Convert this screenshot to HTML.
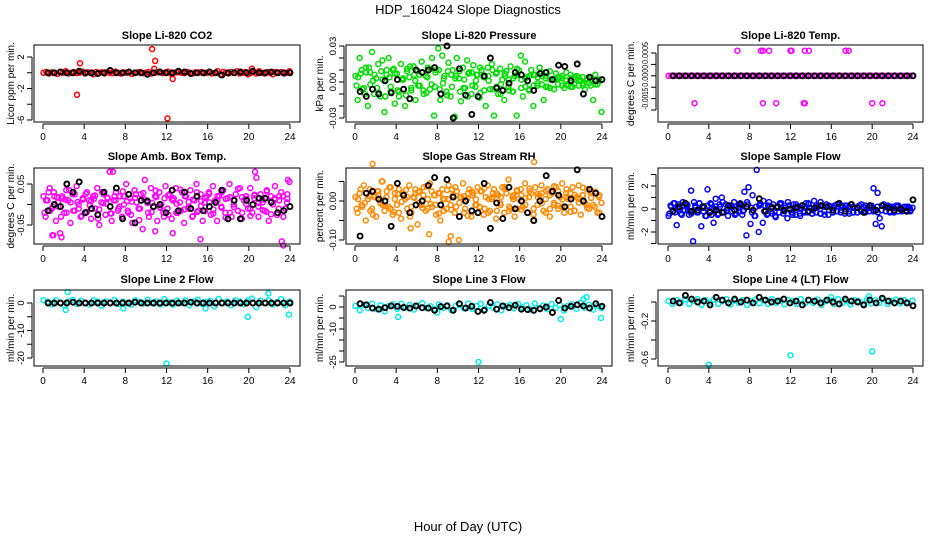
<!DOCTYPE html>
<html><head><meta charset="utf-8">
<style>
html,body{margin:0;padding:0;background:#fff;}
svg{display:block;font-family:"Liberation Sans",Arial,sans-serif;}
</style></head>
<body>
<svg id="chart" width="936" height="540" viewBox="0 0 936 540">
<text x="468" y="14" text-anchor="middle" font-size="13">HDP_160424  Slope Diagnostics</text>
<text x="468" y="531" text-anchor="middle" font-size="13">Hour of Day (UTC)</text>
</svg>
<script>
// ---------- data ----------
const xTicks = [0,4,8,12,16,20,24];
const titles = ["Slope Li-820 CO2","Slope Li-820 Pressure","Slope Li-820 Temp.","Slope Amb. Box Temp.","Slope Gas Stream RH","Slope Sample Flow","Slope Line 2 Flow","Slope Line 3 Flow","Slope Line 4 (LT) Flow"];
const yTitles = ["Licor ppm per min.","kPa per min.","degrees C per min.","degrees C per min.","percent per min.","ml/min per min.","ml/min per min.","ml/min per min.","ml/min per min."];
const colors = ["#ff0000","#00dd00","#ff00ff","#ff00ff","#ff8800","#0000ff","#00eeee","#00eeee","#00eeee"];

const yTicks0 = [2,0,-2,-4,-6];           const yLab0 = ["2","","-2","","-6"];
const yTicks1 = [0.03,0.02,0.01,0,-0.01,-0.02,-0.03]; const yLab1 = ["0.03","","","0.00","","","-0.03"];
const yTicks2 = [0.001,0.0005,0,-0.0005,-0.001,-0.0015]; const yLab2 = ["0.0005","","0.0000","","-0.0015",""];
const yTicks3 = [0.05,0,-0.05];           const yLab3 = ["0.05","","-0.05"];
const yTicks4 = [0.05,0,-0.05,-0.1];      const yLab4 = ["","0.00","","-0.10"];
const yTicks5 = [3,2,1,0,-1,-2,-3];       const yLab5 = ["","2","","0","","-2",""];
const yTicks6 = [0,-5,-10,-15,-20];       const yLab6 = ["0","","-10","","-20"];
const yTicks7 = [5,0,-5,-10,-15,-20,-25]; const yLab7 = ["","0","","-10","","","-25"];
const yTicks8 = [0,-0.2,-0.4,-0.6];       const yLab8 = ["","-0.2","","-0.6"];

const main0 = [0,0.1,-0.1,0.05,0,-0.15,0.1,0,0.2,-0.1,0,0.1,-0.05,0,0.15,-0.1,0.05,0,-0.2,0.1,0,0.05,-0.1,0.1,0,-0.05,0.15,0,-0.1,0.05,0,0.1,-0.15,0,0.05,0.1,-0.05,0,0.1,-0.1,0,0.05,0.1,-0.05,0,0.15,-0.1,0,0.05,0.1,0,-0.05,0.1,0,-0.1,0.05,0,0.1,-0.05,0,
0.1,-0.1,0,0.2,-0.2,0.1,0,-0.1,0.1,0,0.2,-0.1,0,0.1,-0.2,0,0.1,-0.1,0.2,0,-0.1,0.1,0,-0.2,0.1,0,0.1,-0.1,0,0.2];
const main1 = [0.005,-0.015,0.02,0.01,-0.005,0.012,-0.02,0.008,0.025,-0.01,0.003,0.015,-0.012,0.018,-0.025,0.006,0.02,-0.008,0.01,-0.018,
0.007,-0.012,0.015,0.002,-0.02,0.011,0.004,-0.007,0.013,-0.015,0.009,-0.003,0.017,-0.01,0.005,0.012,-0.006,0.02,-0.028,0.01,
0.028,-0.015,0.022,0.005,-0.008,0.016,-0.012,0.01,-0.029,0.02,0.003,-0.016,0.012,-0.005,0.018,0.008,-0.01,0.014,-0.004,0.006,
-0.013,0.01,0.004,-0.02,0.012,-0.006,0.015,-0.028,0.007,-0.01,0.011,0.002,-0.015,0.009,-0.004,0.013,-0.008,0.005,-0.028,0.01,
0.022,-0.012,0.017,0.004,-0.007,0.01,-0.02,0.006,-0.003,0.012,0.008,-0.015,0.005,-0.004,0.009,0.002,-0.006,0.007,-0.002,0.004,
0.003,-0.005,0.008,-0.002,0.006,-0.004,0.002,0.005,-0.003,0.001,0.004,-0.006,0.003,-0.001,0.002,-0.015,0.006,-0.002,0.001,-0.025];
const band1 = [0.004,-0.006,0.008,-0.002,0.006,-0.009,0.002,0.01,-0.004,0.007,-0.008,0.003,0.009,-0.005,0.001,0.006,-0.007,0.004,-0.002,0.008,
-0.006,0.003,0.009,-0.004,0.005,-0.008,0.002,0.007,-0.003,0.006,-0.009,0.004,0.001,-0.006,0.008,-0.002,0.005,-0.007,0.003,0.006,
0.002,-0.004,0.005,-0.003,0.004,-0.002,0.003,-0.005,0.002,0.004,-0.003,0.001,0.003,-0.002,0.004,-0.001,0.002,-0.003,0.001,0.002];
const bandB1 = [-0.003,0.007,-0.01,0.012,0.001,-0.005,0.009,-0.012,0.004,0.011,-0.007,0.002,-0.011,0.013,0.006,-0.003,0.008,-0.009,0.011,-0.004,
0.01,-0.001,-0.011,0.006,0.003,0.009,-0.005,-0.012,0.008,0.001,0.012,-0.007,0.005,0.01,-0.004,-0.01,0.007,0.002,-0.008,0.011,
-0.005,0.003,-0.006,0.006,-0.001,0.005,-0.004,0.002,-0.006,0.003,0.005,-0.002,-0.004,0.004,0.001,-0.003,0.003,0.002,-0.002,0.001];
const main2 = new Array(90).fill(0);
const main3 = [0.02,-0.03,0.01,0.04,-0.01,0.03,-0.04,0.005,-0.07,0.02,-0.02,0.035,0.01,-0.045,0.025,-0.015,0.045,0,-0.03,0.015,
-0.02,0.03,0.01,-0.035,0.02,-0.01,0.04,-0.05,0.005,0.025,-0.025,0.015,0.08,-0.04,0.01,0.03,-0.015,0.02,-0.03,0,
0.05,-0.02,0.015,-0.045,0.035,0.005,-0.01,0.025,-0.06,0.06,0.01,-0.03,0.04,-0.005,0.02,-0.04,0.03,0,-0.02,0.045,
-0.01,0.025,-0.035,0.015,0.04,-0.02,0.005,0.03,-0.045,0.02,-0.01,0.035,-0.03,0.01,0.05,-0.015,0.025,-0.04,0.005,0.02,
0.03,-0.025,0.045,0.01,-0.04,0.02,-0.005,0.035,-0.02,0.015,0.05,-0.03,0,0.025,-0.015,0.04,-0.035,0.01,0.02,-0.01,
0.04,-0.02,0.015,0.065,-0.03,0.025,0.005,-0.015,0.035,-0.04,0.02,0,0.045,-0.025,0.01,0.03,-0.1,-0.01,0.025,0.055];
const band3 = [0.01,-0.015,0.02,-0.005,0.015,-0.02,0.005,0.025,-0.01,0.012,-0.018,0.008,0.022,-0.012,0.003,0.017,-0.022,0.01,-0.005,0.02,
-0.015,0.007,0.025,-0.01,0.013,-0.02,0.004,0.018,-0.008,0.015,-0.025,0.01,0.002,-0.015,0.02,-0.005,0.012,-0.018,0.008,0.016,
0.005,-0.012,0.02,-0.008,0.014,-0.02,0.01,-0.015,0.018,0.002,-0.01,0.022,-0.005,0.012,-0.018,0.008,0.015,-0.01,0.02,0.005];
const bandB3 = [-0.02,0.03,-0.005,0.018,-0.03,0.012,0.035,-0.015,0.006,-0.028,0.026,-0.002,0.014,-0.035,0.03,0.002,-0.022,0.02,-0.01,0.032,
0.008,-0.025,0.016,-0.038,0.028,0.004,-0.018,0.034,-0.006,-0.03,0.022,0.012,-0.02,0.036,-0.012,0.006,-0.028,0.03,-0.004,-0.016,
0.026,-0.022,0.01,0.03,-0.032,0.018,-0.006,0.038,-0.02,0.014,-0.028,0.024,0.004,-0.014,0.032,-0.024,0.012,0.02,-0.03,0.014];
const main4 = [0.01,-0.03,0.02,-0.01,0.04,-0.05,0.005,0.03,-0.02,0.015,-0.04,0.025,-0.005,0.05,-0.025,0.01,-0.015,0.035,-0.035,0.02,
-0.01,0.03,-0.045,0.015,0.005,-0.02,0.04,-0.03,0.01,0.02,-0.06,0.025,-0.01,0.035,-0.025,0.005,0.045,-0.015,0.015,-0.035,
0.02,-0.05,0.03,0.005,-0.02,0.04,-0.01,0.015,-0.03,0.025,-0.1,0.01,0.045,-0.02,0.005,0.03,-0.04,0.02,-0.01,0.035,
-0.015,0.025,-0.035,0.01,0.04,-0.025,0.005,0.03,-0.045,0.015,-0.005,0.035,-0.03,0.02,0.055,-0.02,0.01,-0.04,0.025,0.005,
0.03,-0.015,0.045,-0.03,0.01,0.02,-0.05,0.035,-0.01,0.015,0.04,-0.025,0.005,0.03,-0.04,0.02,-0.01,0.035,-0.02,0.01,
0.045,-0.03,0.02,0.005,-0.015,0.035,-0.025,0.01,0.04,-0.035,0.015,-0.005,0.03,-0.02,0.025,-0.01,0.02,-0.03,0.015,-0.005];
const band4 = [0.005,-0.015,0.02,-0.025,0.01,0.015,-0.01,0.025,-0.02,0.005,-0.03,0.02,0.01,-0.015,0.03,-0.005,0.015,-0.02,0.025,-0.01,
0.02,-0.025,0.005,0.03,-0.015,0.01,-0.03,0.02,0.015,-0.01,0.025,-0.02,0.005,0.02,-0.025,0.01,0.03,-0.015,0.005,-0.02,
0.015,-0.01,0.025,-0.02,0.01,0.02,-0.03,0.015,-0.005,0.025,-0.015,0.01,0.02,-0.025,0.005,0.015,-0.01,0.02,-0.015,0.01];
const bandB4 = [-0.02,0.03,-0.005,0.012,-0.035,0.025,0.002,-0.012,0.035,-0.028,0.018,-0.002,0.028,-0.04,0.008,0.022,-0.018,0.038,-0.008,0.015,
-0.032,0.006,0.028,-0.022,0.035,-0.005,0.012,-0.038,0.024,0.004,-0.016,0.032,-0.03,0.01,0.02,-0.01,0.036,-0.026,0.014,0.028,
-0.022,0.008,0.032,-0.034,0.018,-0.006,0.026,-0.02,0.038,-0.012,0.004,0.03,-0.028,0.016,-0.004,0.034,-0.018,0.008,0.024,-0.03];
const main5 = [-0.6,0.3,-0.2,0.5,-1.4,0.2,-0.4,0.6,-0.1,0.4,-0.5,1.6,-2.8,0.3,-0.3,0.5,-1.5,0.1,-0.6,1.7,
-0.2,0.4,-1.2,0.9,-0.5,0.2,1.0,-0.3,0.4,-0.6,0.3,-0.2,0.6,-0.4,0.1,0.5,-0.5,1.5,-2.3,1.9,
-1.3,1.2,-0.6,3.4,-2.0,0.4,-1.2,0.3,-0.5,0.6,-0.2,0.4,-0.6,0.2,-0.3,0.5,-0.4,0.1,-0.8,0.3,
-0.3,0.4,-0.5,0.2,-0.4,0.3,-0.2,0.5,-0.3,0.1,-0.4,0.7,-0.3,0.2,-0.4,0.3,-0.2,0.4,-0.5,0.2,
-0.3,0.3,-0.2,0.4,-0.3,0.2,-0.4,0.3,-0.2,0.4,-0.3,0.1,-0.3,0.3,-0.2,0.2,-0.3,0.1,-0.2,0.3,
1.8,-1.3,1.4,-0.8,-1.5,0.4,-0.2,0.3,-0.3,0.2,-0.2,0.3,-0.2,0.1,-0.2,0.2,-0.1,0.2,-0.2,0.1];
const band5 = [0.2,-0.3,0.4,-0.1,0.3,-0.4,0.1,0.5,-0.2,0.3,-0.5,0.2,0.4,-0.3,0.1,0.3,-0.4,0.2,-0.1,0.4,
-0.3,0.2,0.5,-0.2,0.3,-0.4,0.1,0.4,-0.2,0.3,-0.5,0.2,0.1,-0.3,0.4,-0.1,0.3,-0.4,0.2,0.3,
0.1,-0.2,0.3,-0.2,0.2,-0.3,0.1,-0.2,0.3,0.1,-0.2,0.2,-0.1,0.2,-0.2,0.1,0.2,-0.1,0.1,0.05];
const bandB5 = [-0.4,0.5,0.1,-0.5,0.4,-0.2,0.6,-0.3,0.2,-0.6,0.5,0,-0.4,0.6,-0.1,0.3,-0.5,0.4,-0.2,0.6,
0.1,-0.6,0.3,0.7,-0.4,0.2,-0.7,0.5,-0.1,0.6,-0.3,0.4,-0.6,0.2,0.5,-0.4,0.1,0.6,-0.5,0.3,
-0.3,0.4,-0.1,0.3,-0.4,0.2,-0.3,0.4,-0.2,0.3,-0.1,-0.3,0.3,-0.2,0.2,-0.3,0.3,-0.2,0.2,-0.1];
const main6 = [1,0.5,-0.5,1,0,-1,0.5,1.2,-0.3,0.8,0,-0.5,1,0.5,-1,0.6,0,1.1,-0.4,0.5,0,-0.6,1,0.4,-0.2,1.2,0,0.6,-0.5,1.4,0.3,-0.6,0.8,0,1,-0.8,0.5,1.2,-0.3,0.4,0.8,-1.2,1.5,0,0.6,-0.8,1,0.5,-0.4,0.9,1.6,-1.5,0.8,0,1,-0.5,0.3,1.4,-0.8,0.5];
const main7 = [0.5,-1.5,1,-0.5,1.5,-1,0.8,-2,0.5,1.2,-0.8,1.5,-0.3,0.9,-1.2,0.6,1.8,-0.5,0.3,-1,1.2,-0.4,0.8,-1.5,0.5,1,-0.6,1.6,-0.8,0.4,1.5,-1,0.6,-0.3,1.2,-1.5,0.4,0.9,-0.6,1.4,-0.2,0.8,-1.2,1.6,-0.5,0.7,-1,1.3,-0.4,0.9,-1.6,0.5,1.2,-0.8,1.8,-0.3,1,-1.2,0.6,-0.5];
const main8 = [0.01,-0.02,0.02,-0.01,0.03,-0.02,0.01,0.03,-0.03,0.02,-0.01,0.025,-0.02,0.01,0.03,-0.025,0.015,-0.01,0.02,-0.03,0.01,0.025,-0.015,0.02,-0.02,0.03,-0.01,0.015,-0.025,0.02,0.01,-0.02,0.03,-0.015,0.02,-0.01,0.025,-0.03,0.01,0.02,-0.02,0.03,-0.01,0.015,-0.025,0.02,0.01,-0.02,0.025,-0.015,0.02,-0.01,0.03,-0.02,0.01,0.025,-0.015,0.02,-0.01,0.015];

const outX0 = [3.3,3.6,10.6,10.9,10.8,12.1,12.6,20.3]; const outY0 = [-2.8,1.2,3.0,1.5,0.5,-5.8,-0.8,0.5];
const outX1 = []; const outY1 = [];
const outX2 = [6.8,9.1,9.3,9.9,12.0,12.1,13.4,13.8,17.4,17.7,2.6,9.3,10.6,13.3,13.4,20.0,21.0];
const outY2 = [0.0011,0.0011,0.0011,0.0011,0.0011,0.0011,0.0011,0.0011,0.0011,0.0011,-0.0012,-0.0012,-0.0012,-0.0012,-0.0012,-0.0012,-0.0012];
const outX3 = [0.9,1.0,1.8,6.8,10.9,12.6,15.3,20.6,23.2,23.8]; const outY3 = [-0.075,-0.075,-0.08,0.08,-0.065,-0.07,-0.085,0.08,-0.09,0.06];
const outX4 = [1.7,5.4,9.1,9.3,2.6,7.2,17.4]; const outY4 = [0.095,-0.07,-0.105,-0.09,0.05,-0.085,0.1];
const outX5 = []; const outY5 = [];
const outX6 = [2.2,2.4,12.0,15.8,19.9,21.9,23.9,7.8]; const outY6 = [-2.5,4,-22,-2,-5,3.5,-4.2,-2];
const outX7 = [4.2,8.0,12.0,20.0,22.5,23.9,22.2]; const outY7 = [-4.5,-2.5,-25,-5.5,4.5,-5,3.5];
const outX8 = [4.0,12.0,20.0,16.0,19.7]; const outY8 = [-0.66,-0.56,-0.52,0.05,0.06];

const blk0 = [0,0,0.1,0,0,0.2,0,0,-0.1,0,0.3,0,0,0.1,0,0,-0.2,0,0.1,0,0,0.2,0.1,-0.1,0,0,0.1,0,-0.3,0,0,0.1,0,0.2,0,0,0.1,0,0,0];
const blk1 = [-0.008,-0.012,-0.006,-0.01,0.001,-0.009,0.002,-0.006,-0.014,0.01,0.008,0.01,0.012,-0.01,0.03,-0.03,0.011,-0.011,-0.027,-0.012,0.005,0.02,-0.005,-0.007,-0.001,0.008,0.006,0.001,-0.007,0.007,0.008,0.002,0.014,0.013,0.001,0.015,-0.01,0.004,0.001,0.002];
const blk2 = new Array(40).fill(0);
const blk3 = [-0.015,0,-0.005,0.05,0.03,0.055,-0.02,-0.01,-0.025,0.03,-0.005,0.04,-0.035,0.025,-0.045,0.01,0.008,-0.005,0,-0.02,0.035,-0.015,0.03,-0.01,0.02,-0.015,-0.005,0.005,0.035,-0.035,0.01,-0.035,0.01,0,0.015,0.015,0.005,-0.02,-0.015,-0.005];
const blk4 = [-0.09,0.02,0.025,0.005,0,-0.065,0.045,0.015,-0.03,-0.01,0,0.04,0.06,-0.01,0.055,0.01,-0.04,0,-0.025,-0.03,0.045,-0.07,-0.005,-0.045,0.035,-0.02,0,-0.03,-0.05,0,0.065,0.025,0.015,-0.015,0.005,0.08,0,0.03,0.02,-0.04];
const blk5 = [-0.2,0.2,0.5,-0.2,-0.1,0.2,-0.3,-0.1,-0.3,0.3,-0.1,0.4,0.2,-0.1,0.9,-0.2,0.1,0.2,-0.1,0,0.1,0.3,-0.2,0.1,0.3,0.2,-0.1,0.5,-0.2,0.4,0.1,-0.3,0.3,-0.1,0.3,0.1,-0.1,0,-0.2,0.8];
const blk6 = [0,0,0,0,0.3,0,0,0,0,0,0,0,0,0,0.3,0,0,0,0,0,0,0,0,0.3,0,0,0,0,0,0,0,0,0,0,0,0,0,0,0,0];
const blk7 = [1.5,1,-0.5,-1,-0.3,0.5,0.3,-0.2,-0.5,0.5,-0.3,-0.5,-1.5,0.2,0.5,-1.5,1.5,-0.5,0.3,-2,-1.5,2,-1,0.5,-0.3,0.8,-1,-1.2,-1.5,-0.8,0,-2.5,3,-0.5,0.3,1,0.5,-0.5,1.5,0.3];
const blk8 = [0.01,-0.01,0.07,0.03,0,0.01,-0.03,0.05,0.02,-0.01,0.03,0,0.02,-0.01,0.05,0.02,0,0.01,0.03,-0.01,0.01,-0.03,0.02,0.01,-0.01,0.02,0,-0.02,0.03,0.01,0,-0.03,0.02,-0.01,0.04,0.01,-0.01,0.01,-0.01,-0.04];

// ---------- layout ----------
const mains = [main0,main1,main2,main3,main4,main5,main6,main7,main8];
const bands = [null,band1,null,band3,band4,band5,null,null,null];
const bandsB = [null,bandB1,null,bandB3,bandB4,bandB5,null,null,null];
const outXs = [outX0,outX1,outX2,outX3,outX4,outX5,outX6,outX7,outX8];
const outYs = [outY0,outY1,outY2,outY3,outY4,outY5,outY6,outY7,outY8];
const blks = [blk0,blk1,blk2,blk3,blk4,blk5,blk6,blk7,blk8];
const yTicksAll = [yTicks0,yTicks1,yTicks2,yTicks3,yTicks4,yTicks5,yTicks6,yTicks7,yTicks8];
const yLabsAll = [yLab0,yLab1,yLab2,yLab3,yLab4,yLab5,yLab6,yLab7,yLab8];
const cal = [[2,57,-6,120],[0.03,46,-0.03,118],[0.001,53,-0.0015,110],[0.05,184,-0.05,225],[0,201,-0.1,240],[2,186,-2,232],[0,303,-20,358],[0,307,-25,362],[0,302,-0.6,359]];
const cols = [{bl:34,br:300,x0:43,x1:290},{bl:346,br:612,x0:355,x1:602},{bl:658,br:923,x0:668,x1:913}];
const rows = [{top:45,bot:122,title:39},{top:168,bot:244,title:160},{top:290,bot:366,title:283}];
const ytX = [11,320,631];

const NS = "http://www.w3.org/2000/svg";
const svg = document.getElementById('chart');
function mk(tag, attrs, parent){const e=document.createElementNS(NS,tag);for(const k in attrs)e.setAttribute(k,attrs[k]);(parent||svg).appendChild(e);return e;}

for(let p=0;p<9;p++){
  const c=cols[p%3], r=rows[Math.floor(p/3)];
  const g=mk('g',{});
  
  
  const xs=v=>c.x0+(v/24)*(c.x1-c.x0);
  const k=cal[p];
  const ys=v=>k[1]+(v-k[0])*(k[3]-k[1])/(k[2]-k[0]);
  const t=mk('text',{x:(c.bl+c.br)/2,y:r.title,'text-anchor':'middle','font-size':'11','font-weight':'bold'},g);
  t.textContent=titles[p];
  
  
  const yt=mk('text',{x:0,y:0,'text-anchor':'middle','font-size':'10',transform:`translate(${ytX[p%3]+3},${(r.top+r.bot)/2}) rotate(-90)`},g);
  yt.textContent=yTitles[p];
  
  
  const plotG=mk('g',{fill:'none'},g);
  
  
  const col=colors[p];
  function dot(x,y,color,sw){
    const e=mk('circle',{cx:xs(x).toFixed(1),cy:ys(y).toFixed(1),r:'2.5',stroke:color,'stroke-width':sw},plotG);
    
    
  }
  const m=mains[p];
  m.forEach((v,i)=>dot(0.05+i*23.9/(m.length-1),v,col,1.5));
  if(bands[p]){const b=bands[p];b.forEach((v,i)=>dot(0.3+i*23.4/(b.length-1),v,col,1.5));}
  if(bandsB[p]){const b=bandsB[p];b.forEach((v,i)=>dot(0.15+i*23.6/(b.length-1),v,col,1.5));}
  outXs[p].forEach((x,i)=>dot(x,outYs[p][i],col,1.5));
  const bk=blks[p];
  bk.forEach((v,i)=>dot(0.5+i*23.5/(bk.length-1),v,'#000',1.9));
  const box=mk('rect',{x:c.bl,y:r.top,width:c.br-c.bl,height:r.bot-r.top,fill:'none',stroke:'#000','stroke-width':'1'},g);
  
  
  const xa=mk('g',{},g);
  
  
  mk('line',{x1:xs(0),x2:xs(24),y1:r.bot+2,y2:r.bot+2,stroke:'#000'},xa);
  xTicks.forEach(v=>{
    mk('line',{x1:xs(v),x2:xs(v),y1:r.bot+2,y2:r.bot+7,stroke:'#000'},xa);
    const l=mk('text',{x:xs(v),y:r.bot+18,'text-anchor':'middle','font-size':'10'},xa);
    l.textContent=v;
    
    
  });
  const ya=mk('g',{},g);
  
  
  const yt0=yTicksAll[p];
  mk('line',{x1:c.bl-2,x2:c.bl-2,y1:ys(yt0[0]),y2:ys(yt0[yt0.length-1]),stroke:'#000'},ya);
  yt0.forEach((v,i)=>{
    const yy=ys(v);
    mk('line',{x1:c.bl-7,x2:c.bl-2,y1:yy,y2:yy,stroke:'#000'},ya);
    const s=yLabsAll[p][i];
    if(s){
      const attrs={x:0,y:0,'text-anchor':'middle','font-size':'9.5',transform:`translate(${c.bl-10},${yy}) rotate(-90)`};
      if(s.length>=6){attrs['font-size']='8.5';attrs['textLength']='22';attrs['lengthAdjust']='spacingAndGlyphs';}
      const l=mk('text',attrs,ya);
      l.textContent=s;
      
      
    }
  });
}
</script>
</body></html>
